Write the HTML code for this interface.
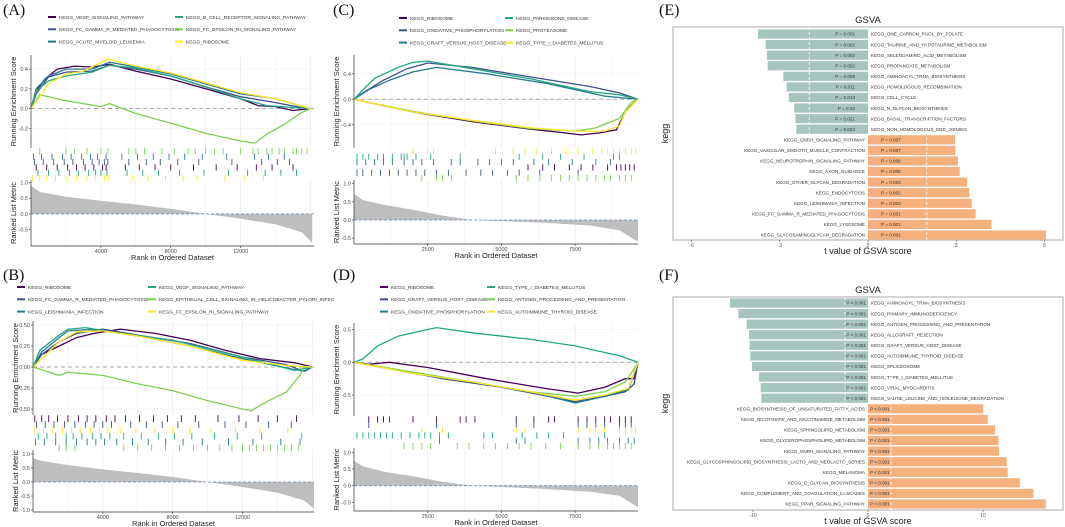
<!DOCTYPE html>
<html><head><meta charset="utf-8"><style>
html,body{margin:0;padding:0;background:#fff;}
svg{display:block;font-family:"Liberation Sans",sans-serif;}
</style></head><body>
<svg id="fig" width="1065" height="527" viewBox="0 0 1065 527" xmlns="http://www.w3.org/2000/svg"></svg>
<script>
// ---------- DATA ----------
const colPurple="#440154", colDark="#3b528b", colSteel="#2a788e", colTeal="#22a884", colLime="#7ad151", colYellow="#fde725";

// Panel A
const aNames=["KEGG_VEGF_SIGNALING_PATHWAY","KEGG_FC_GAMMA_R_MEDIATED_PHAGOCYTOSIS","KEGG_ACUTE_MYELOID_LEUKEMIA","KEGG_B_CELL_RECEPTOR_SIGNALING_PATHWAY","KEGG_FC_EPSILON_RI_SIGNALING_PATHWAY","KEGG_RIBOSOME"];
const aColors=[colPurple,colDark,colSteel,colTeal,colLime,colYellow];
const aES=[
 [[0,0],[300,0.18],[800,0.3],[1500,0.4],[2500,0.43],[3500,0.42],[4500,0.45],[6000,0.38],[8000,0.3],[10000,0.2],[12000,0.1],[13000,0.03],[14000,0.02],[15000,-0.02],[16000,0]],
 [[0,0],[300,0.15],[1000,0.32],[2000,0.37],[3500,0.38],[4500,0.44],[6000,0.4],[8000,0.33],[10000,0.22],[12000,0.12],[14000,0.06],[15500,0.01],[16000,0]],
 [[0,0],[300,0.2],[1000,0.33],[2000,0.4],[3500,0.4],[4500,0.47],[6000,0.42],[8000,0.35],[10000,0.25],[12000,0.15],[14000,0.1],[16000,0]],
 [[0,0],[300,0.18],[1000,0.28],[2000,0.33],[3500,0.37],[4500,0.44],[6000,0.41],[8000,0.33],[10000,0.22],[12000,0.1],[13500,0.03],[16000,0]],
 [[0,0],[500,0.14],[2000,0.08],[4000,0.02],[4500,0.05],[6000,-0.05],[8000,-0.15],[10000,-0.25],[12000,-0.33],[12800,-0.35],[13500,-0.26],[14500,-0.16],[15500,-0.04],[16000,0]],
 [[0,0],[500,0.12],[1000,0.25],[2000,0.35],[3000,0.38],[4400,0.5],[6000,0.43],[8000,0.36],[10000,0.26],[12000,0.16],[14000,0.1],[16000,0]]
];
const aHits=[
 [300,900,1500,2100,2600,3100,3600,4100,4300,5400,6200,7100,8000,9300,10600,11800,12900,13800,15000],
 [200,700,1300,1900,2400,3000,3500,3900,4200,4400,5600,6600,7400,8400,9600,11500,13200,14100,14800],
 [150,600,1200,1800,2300,2900,3400,3800,4300,5200,6100,7000,7900,8800,9800,11200,12800,13600,14500],
 [400,1000,1600,2200,2700,3300,3700,4000,4350,5500,6400,7300,8500,9900,11300,12400,13400,14300,15200],
 [500,2000,2500,3200,4000,4400,5600,6000,6500,7500,8200,9000,9400,10000,10500,11000,12000,12700,13000,13500,13800,14200,14500,15000,15200,15500,15800],
 [100,500,900,1400,2000,2600,3200,3700,4200,4450,5800,6700,7700,8700,9500,11100,12200,13300]
];
const aRows=[4,2,1,0,3,5];
const aMetric=[[0,0.9],[500,0.7],[2000,0.55],[4000,0.42],[6000,0.3],[8000,0.16],[10000,0],[12000,-0.15],[14000,-0.33],[15500,-0.58],[16100,-0.92]];

// Panel B
const bNames=["KEGG_RIBOSOME","KEGG_FC_GAMMA_R_MEDIATED_PHAGOCYTOSIS","KEGG_LEISHMANIA_INFECTION","KEGG_VEGF_SIGNALING_PATHWAY","KEGG_EPITHELIAL_CELL_SIGNALING_IN_HELICOBACTER_PYLORI_INFEC","KEGG_FC_EPSILON_RI_SIGNALING_PATHWAY"];
const bColors=[colPurple,colDark,colSteel,colTeal,colLime,colYellow];
const bES=[
 [[0,0],[500,0.15],[1500,0.25],[2500,0.35],[3500,0.4],[5000,0.45],[7000,0.4],[9000,0.32],[11000,0.2],[13000,0.1],[15000,0.05],[16000,0]],
 [[0,0],[500,0.15],[1500,0.3],[2500,0.4],[4000,0.45],[6000,0.38],[9000,0.28],[12000,0.12],[14500,0.03],[15500,-0.05],[16000,0]],
 [[0,0],[500,0.18],[1500,0.35],[2000,0.43],[3500,0.45],[6000,0.37],[9000,0.25],[12000,0.1],[15000,-0.03],[15600,-0.05],[16000,0]],
 [[0,0],[400,0.2],[1500,0.38],[2000,0.45],[3000,0.47],[5000,0.4],[8000,0.32],[12000,0.12],[15000,-0.04],[16000,0]],
 [[0,0],[1500,-0.1],[2000,-0.06],[3000,-0.08],[4000,-0.1],[6000,-0.2],[8000,-0.28],[10000,-0.4],[12000,-0.5],[12500,-0.52],[13500,-0.4],[14500,-0.3],[15300,-0.1],[15500,0],[16000,0]],
 [[0,0],[500,0.1],[1500,0.3],[2500,0.42],[4000,0.43],[6000,0.37],[9000,0.25],[12000,0.08],[14500,0.02],[16000,0]]
];
const bHits=[
 [100,500,900,1400,2000,2600,3100,3600,4200,4700,5300,6100,6900,7700,8500,9300,10600,11800,12900,14000,15100],
 [200,700,1200,1800,2400,3000,3500,4000,4500,5600,6500,7400,8300,9500,11000,12200,13500,14800],
 [150,650,1300,1900,2500,3100,3600,4100,4800,5700,6600,7600,8600,9700,11200,12600,14200,15300],
 [300,800,1300,1900,2300,2800,3400,3900,4400,5200,6200,7200,8100,9100,10400,11700,13100,15400],
 [1500,1900,2400,5200,6000,6800,7600,8400,9200,10000,10700,11400,12000,12400,12800,13200,13600,14000,14400,14800,15200],
 [100,600,1100,1700,2200,2700,3300,3800,4300,5000,5900,7000,8000,9000,10200,11600,13000,14600]
];
const bRows=[0,1,5,3,2,4];
const bMetric=[[0,0.85],[500,0.75],[2000,0.6],[4000,0.45],[6000,0.32],[8000,0.18],[10000,0],[12000,-0.18],[14000,-0.38],[15500,-0.65],[16100,-0.95]];

// Panel C
const cNames=["KEGG_RIBOSOME","KEGG_OXIDATIVE_PHOSPHORYLATION","KEGG_GRAFT_VERSUS_HOST_DISEASE","KEGG_PARKINSONS_DISEASE","KEGG_PROTEASOME","KEGG_TYPE_I_DIABETES_MELLITUS"];
const cColors=[colPurple,colDark,colSteel,colTeal,colLime,colYellow];
const cES=[
 [[0,0],[2000,-0.2],[4000,-0.35],[6000,-0.47],[7000,-0.52],[7700,-0.56],[8300,-0.53],[8900,-0.48],[9200,-0.2],[9400,-0.1],[9630,0]],
 [[0,0],[300,0.1],[1000,0.3],[1800,0.48],[2500,0.57],[4000,0.5],[6000,0.35],[8000,0.2],[9000,0.1],[9630,0]],
 [[0,0],[500,0.15],[1200,0.3],[2000,0.43],[2800,0.5],[4500,0.4],[6500,0.25],[8500,0.05],[9630,0]],
 [[0,0],[200,0.1],[700,0.33],[1500,0.5],[2000,0.58],[2500,0.6],[4000,0.48],[6000,0.32],[8000,0.12],[9000,0.07],[9630,0]],
 [[0,0],[2000,-0.19],[4000,-0.34],[6000,-0.46],[7500,-0.5],[8200,-0.45],[9000,-0.3],[9400,-0.05],[9630,0]],
 [[0,0],[2000,-0.2],[4000,-0.33],[6000,-0.45],[7500,-0.5],[8500,-0.5],[9000,-0.42],[9200,-0.2],[9630,0]]
];
const cHits=[
 [5900,6400,6800,7300,7700,8100,8600,8900,9050,9200,9350,9500],
 [100,300,600,900,1200,1500,1800,2100,2400,2800,3200,3800,4300,4700,5200,5600,6300,7600],
 [100,400,700,1000,1300,1700,2000,2300,2700,3300,3600,4200,4600,5000,5400,6100,6600,7400,8200,8700],
 [100,300,500,800,1000,1300,1600,1700,1800,2100,2600,3600,5600,6400,7000,7800,8800,9000],
 [2300,2800,3000,3300,5500,5900,6300,6700,7000,7300,7600,7900,8200,8500,8700,9000,9200,9400],
 [2000,2500,2700,4800,5400,5800,6200,6700,7200,7600,8100,8400,8600,8800,9000,9200,9400,9550]
];
const cRows=[5,3,2,0,1,4];
const cMetric=[[0,0.72],[300,0.55],[1000,0.42],[2000,0.28],[3000,0.12],[4000,0],[5000,-0.03],[6500,-0.08],[8000,-0.15],[9000,-0.28],[9630,-0.6]];

// Panel D
const dNames=["KEGG_RIBOSOME","KEGG_GRAFT_VERSUS_HOST_DISEASE","KEGG_OXIDATIVE_PHOSPHORYLATION","KEGG_TYPE_I_DIABETES_MELLITUS","KEGG_ANTIGEN_PROCESSING_AND_PRESENTATION","KEGG_AUTOIMMUNE_THYROID_DISEASE"];
const dColors=[colPurple,colDark,colSteel,colTeal,colLime,colYellow];
const dES=[
 [[0,0],[500,-0.03],[1200,0],[2500,-0.08],[4500,-0.25],[6500,-0.4],[7600,-0.47],[8500,-0.38],[9200,-0.25],[9500,-0.25],[9630,0]],
 [[0,0],[1000,-0.08],[3000,-0.25],[5000,-0.38],[7500,-0.6],[8500,-0.52],[9200,-0.45],[9500,-0.33],[9630,0]],
 [[0,0],[2000,-0.17],[4000,-0.3],[6000,-0.45],[7500,-0.62],[8500,-0.52],[9300,-0.42],[9630,0]],
 [[0,0],[300,0.05],[800,0.25],[1500,0.4],[2500,0.5],[2800,0.53],[4000,0.45],[6000,0.35],[7500,0.25],[9000,0.1],[9630,0]],
 [[0,0],[2000,-0.15],[4000,-0.3],[6000,-0.45],[7500,-0.52],[8500,-0.45],[9200,-0.3],[9500,-0.1],[9630,0]],
 [[0,0],[2000,-0.17],[4000,-0.3],[6000,-0.45],[7500,-0.58],[8500,-0.5],[9300,-0.4],[9630,0]]
];
const dHits=[
 [500,800,1000,1200,2000,2800,3600,3800,4100,5500,6100,6600,6800,7600,7900,8200,8500,8700,9000,9200,9400],
 [500,2800,5500,6100,7600,7900,8200,8500,9000,9200,9400],
 [2900,5500,5800,7600,8000,8300,8600,9000,9300,9500],
 [100,300,500,700,900,1100,1300,1600,1900,2200,2400,2600,2900,3200,4400,4700,5700,6200,6600,7100,8500],
 [1700,2000,2300,2600,3500,3900,4400,4800,5200,5600,6000,6500,7000,7600,8000,8300,8600,8800,9000,9200,9400],
 [2300,3000,5500,5800,7600,8000,8200,8500,9000,9200,9400,9550]
];
const dRows=[0,1,5,3,2,4];
const dMetric=[[0,0.75],[300,0.58],[1000,0.42],[2000,0.28],[3000,0.12],[4000,0],[5000,-0.04],[6500,-0.1],[8000,-0.18],[9000,-0.3],[9630,-0.65]];

// GSVA E
const eLabels=["KEGG_ONE_CARBON_POOL_BY_FOLATE","KEGG_TAURINE_AND_HYPOTAURINE_METABOLISM","KEGG_SELENOAMINO_ACID_METABOLISM","KEGG_PROPANOATE_METABOLISM","KEGG_AMINOACYL_TRNA_BIOSYNTHESIS","KEGG_HOMOLOGOUS_RECOMBINATION","KEGG_CELL_CYCLE","KEGG_N_GLYCAN_BIOSYNTHESIS","KEGG_BASAL_TRANSCRIPTION_FACTORS","KEGG_NON_HOMOLOGOUS_END_JOINING","KEGG_GNRH_SIGNALING_PATHWAY","KEGG_VASCULAR_SMOOTH_MUSCLE_CONTRACTION","KEGG_NEUROTROPHIN_SIGNALING_PATHWAY","KEGG_AXON_GUIDANCE","KEGG_OTHER_GLYCAN_DEGRADATION","KEGG_ENDOCYTOSIS","KEGG_LEISHMANIA_INFECTION","KEGG_FC_GAMMA_R_MEDIATED_PHAGOCYTOSIS","KEGG_LYSOSOME","KEGG_GLYCOSAMINOGLYCAN_DEGRADATION"];
const eValues=[-3.74,-3.48,-3.44,-3.41,-2.88,-2.77,-2.69,-2.51,-2.47,-2.44,2.96,2.97,3.06,3.12,3.37,3.45,3.53,3.66,4.2,6.05];
const ePvals=["P = 0.001","P = 0.002","P = 0.002","P = 0.002","P = 0.008","P = 0.011","P = 0.013","P = 0.02","P = 0.021","P = 0.023","P = 0.007","P = 0.007","P = 0.006","P = 0.005","P = 0.003","P = 0.002","P = 0.002","P = 0.001","P = 0.001","P < 0.001"];
const eTicks=[-6,-3,0,3,6];
// GSVA F
const fLabels=["KEGG_AMINOACYL_TRNA_BIOSYNTHESIS","KEGG_PRIMARY_IMMUNODEFICIENCY","KEGG_ANTIGEN_PROCESSING_AND_PRESENTATION","KEGG_ALLOGRAFT_REJECTION","KEGG_GRAFT_VERSUS_HOST_DISEASE","KEGG_AUTOIMMUNE_THYROID_DISEASE","KEGG_SPLICEOSOME","KEGG_TYPE_I_DIABETES_MELLITUS","KEGG_VIRAL_MYOCARDITIS","KEGG_VALINE_LEUCINE_AND_ISOLEUCINE_DEGRADATION","KEGG_BIOSYNTHESIS_OF_UNSATURATED_FATTY_ACIDS","KEGG_NICOTINATE_AND_NICOTINAMIDE_METABOLISM","KEGG_SPHINGOLIPID_METABOLISM","KEGG_GLYCEROPHOSPHOLIPID_METABOLISM","KEGG_GNRH_SIGNALING_PATHWAY","KEGG_GLYCOSPHINGOLIPID_BIOSYNTHESIS_LACTO_AND_NEOLACTO_SERIES","KEGG_MELANOMA","KEGG_O_GLYCAN_BIOSYNTHESIS","KEGG_COMPLEMENT_AND_COAGULATION_CASCADES","KEGG_PPAR_SIGNALING_PATHWAY"];
const fValues=[-12.0,-11.27,-10.55,-10.35,-10.3,-10.23,-10.09,-9.48,-9.33,-9.27,10.03,10.41,11.05,11.34,11.4,12.06,12.15,13.2,14.38,15.46];
const fPvals=["P < 0.001","P < 0.001","P < 0.001","P < 0.001","P < 0.001","P < 0.001","P < 0.001","P < 0.001","P < 0.001","P < 0.001","P < 0.001","P < 0.001","P < 0.001","P < 0.001","P < 0.001","P < 0.001","P < 0.001","P < 0.001","P < 0.001","P < 0.001"];
const fTicks=[-10,0,10];

// ---------- DRAWING ----------
const svg=document.getElementById('fig');
const NS="http://www.w3.org/2000/svg";
function mk(tag,attrs,parent){const e=document.createElementNS(NS,tag);for(const k in attrs)e.setAttribute(k,attrs[k]);(parent||svg).appendChild(e);return e;}
function txt(s,attrs,parent){const e=mk('text',attrs,parent);e.textContent=s;return e;}

function gsea(cfg){
  const g=mk('g',{});
  
  
  const X=v=>cfg.x0+(v/cfg.xmax)*(cfg.x1-cfg.x0);
  const YE=v=>cfg.esTop+(cfg.esMax-v)/(cfg.esMax-cfg.esMin)*(cfg.esBot-cfg.esTop);
  const YM=v=>cfg.metTop+(cfg.metMax-v)/(cfg.metMax-cfg.metMin)*(cfg.metBot-cfg.metTop);
  const pl=txt(cfg.letter,{x:cfg.lx,y:cfg.ly,'font-family':'Liberation Serif, serif','font-size':16,fill:'#111'},g);
  
  
  cfg.names.forEach((n,i)=>{
    const col=i<3?0:1,row=i%3;
    const lx=cfg.legX[col],ly=cfg.legY+row*12.3;
    const lg=mk('g',{},g);
    
    
    mk('line',{x1:lx,x2:lx+8,y1:ly,y2:ly,stroke:cfg.colors[i],'stroke-width':2},lg);
    txt(n,{x:lx+11,y:ly+1.8,'font-size':4.9,fill:'#333'},lg);
  });
  for(let t=cfg.xstep/2;t<cfg.xmax;t+=cfg.xstep/2){
    mk('line',{x1:X(t),x2:X(t),y1:cfg.esTop,y2:cfg.esBot,stroke:'#ebebeb','stroke-width':t%cfg.xstep===0?0.8:0.5},g);
    mk('line',{x1:X(t),x2:X(t),y1:cfg.metTop,y2:cfg.metBot,stroke:'#ebebeb','stroke-width':t%cfg.xstep===0?0.8:0.5},g);
  }
  cfg.esTicks.forEach(t=>mk('line',{x1:cfg.x0,x2:cfg.x1,y1:YE(t),y2:YE(t),stroke:'#f0f0f0','stroke-width':0.6},g));
  mk('line',{x1:cfg.x0,x2:cfg.x1,y1:YE(0),y2:YE(0),stroke:'#aaa','stroke-width':1,'stroke-dasharray':'4,3'},g);
  cfg.es.forEach((pts,i)=>{
    const p=mk('polyline',{points:pts.map(q=>X(q[0]).toFixed(1)+','+YE(q[1]).toFixed(1)).join(' '),fill:'none',stroke:cfg.colors[i],'stroke-width':1.3},g);
    
    
  });
  const rh=(cfg.hitBot-cfg.hitTop)/6;
  cfg.rows.forEach((si,r)=>{
    cfg.hits[si].forEach(h=>{
      const l=mk('line',{x1:X(h),x2:X(h),y1:cfg.hitTop+r*rh+0.3,y2:cfg.hitTop+(r+1)*rh+1.2,stroke:cfg.colors[si],'stroke-width':0.9},g);
      
      
    });
  });
  let d='M'+X(cfg.metric[0][0])+','+YM(0);
  cfg.metric.forEach(q=>{d+=' L'+X(q[0]).toFixed(1)+','+YM(q[1]).toFixed(1);});
  d+=' L'+X(cfg.metric[cfg.metric.length-1][0])+','+YM(0)+' Z';
  const ar=mk('path',{d:d,fill:'#bebebe',stroke:'none'},g);
  
  
  mk('line',{x1:cfg.x0,x2:cfg.x1,y1:YM(0),y2:YM(0),stroke:'#6a8fb5','stroke-width':0.8,'stroke-dasharray':'3,2'},g);
  mk('line',{x1:cfg.x0,x2:cfg.x0,y1:cfg.esTop,y2:cfg.esBot,stroke:'#333','stroke-width':0.7},g);
  mk('line',{x1:cfg.x0,x2:cfg.x0,y1:cfg.metTop,y2:cfg.metBot,stroke:'#333','stroke-width':0.7},g);
  mk('line',{x1:cfg.x0,x2:cfg.x1,y1:cfg.metBot,y2:cfg.metBot,stroke:'#333','stroke-width':0.7},g);
  cfg.esTicks.forEach((t,i)=>{
    mk('line',{x1:cfg.x0-2,x2:cfg.x0,y1:YE(t),y2:YE(t),stroke:'#333','stroke-width':0.6},g);
    txt(cfg.esLabels[i],{x:cfg.x0-3,y:YE(t)+2,'font-size':5.5,'text-anchor':'end',fill:'#4d4d4d'},g);
  });
  cfg.metTicks.forEach((t,i)=>{
    mk('line',{x1:cfg.x0-2,x2:cfg.x0,y1:YM(t),y2:YM(t),stroke:'#333','stroke-width':0.6},g);
    txt(cfg.metLabels[i],{x:cfg.x0-3,y:YM(t)+2,'font-size':5.5,'text-anchor':'end',fill:'#4d4d4d'},g);
  });
  cfg.xTicks.forEach(t=>{
    mk('line',{x1:X(t),x2:X(t),y1:cfg.metBot,y2:cfg.metBot+2,stroke:'#333','stroke-width':0.6},g);
    txt(String(t),{x:X(t),y:cfg.metBot+7,'font-size':5.5,'text-anchor':'middle',fill:'#4d4d4d'},g);
  });
  const xt=txt('Rank in Ordered Dataset',{x:(cfg.x0+cfg.x1)/2,y:cfg.metBot+14,'font-size':7.5,'text-anchor':'middle',fill:'#222'},g);
  
  
  const yc1=(cfg.esTop+cfg.esBot)/2,yc2=(cfg.metTop+cfg.metBot)/2,tx=cfg.x0-15;
  const y1=txt('Running Enrichment Score',{x:tx,y:yc1,'font-size':7.5,'text-anchor':'middle',fill:'#222',transform:`rotate(-90 ${tx} ${yc1})`},g);
  
  
  const y2=txt('Ranked List Metric',{x:tx,y:yc2,'font-size':7.5,'text-anchor':'middle',fill:'#222',transform:`rotate(-90 ${tx} ${yc2})`},g);
  
  
}

gsea({id:'a',letter:'(A)',lx:3,ly:15,names:aNames,colors:aColors,es:aES,hits:aHits,rows:aRows,metric:aMetric,legX:[48,175],legY:17,
  x0:31,x1:314,xmax:16200,xstep:4000,xTicks:[4000,8000,12000],
  esTop:55,esBot:148,esMax:0.543,esMin:-0.40,esTicks:[-0.2,0,0.2,0.4],esLabels:['-0.2','0.0','0.2','0.4'],
  hitTop:148,hitBot:180,metTop:180,metBot:246,metMax:1.08,metMin:-1.02,metTicks:[-0.5,0,0.5,1],metLabels:['-0.5','0.0','0.5','1.0']});
gsea({id:'b',letter:'(B)',lx:3,ly:280,names:bNames,colors:bColors,es:bES,hits:bHits,rows:bRows,metric:bMetric,legX:[17,148],legY:287,
  x0:33,x1:314,xmax:16100,xstep:4000,xTicks:[4000,8000,12000],
  esTop:321,esBot:415,esMax:0.548,esMin:-0.571,esTicks:[-0.5,-0.25,0,0.25,0.5],esLabels:['-0.50','-0.25','0.00','0.25','0.50'],
  hitTop:415,hitBot:450,metTop:450,metBot:512,metMax:1.14,metMin:-1.07,metTicks:[-1,-0.5,0,0.5,1],metLabels:['-1.0','-0.5','0.0','0.5','1.0']});
gsea({id:'c',letter:'(C)',lx:333,ly:15,names:cNames,colors:cColors,es:cES,hits:cHits,rows:cRows,metric:cMetric,legX:[399,505],legY:18,
  x0:354,x1:638,xmax:9630,xstep:2500,xTicks:[2500,5000,7500],
  esTop:55,esBot:148,esMax:0.695,esMin:-0.765,esTicks:[-0.4,0,0.4],esLabels:['-0.4','0.0','0.4'],
  hitTop:148,hitBot:180,metTop:180,metBot:244,metMax:1.1,metMin:-0.66,metTicks:[-0.5,0,0.5,1],metLabels:['-0.5','0.0','0.5','1.0']});
gsea({id:'d',letter:'(D)',lx:333,ly:280,names:dNames,colors:dColors,es:dES,hits:dHits,rows:dRows,metric:dMetric,legX:[380,487],legY:287,
  x0:354,x1:638,xmax:9630,xstep:2500,xTicks:[2500,5000,7500],
  esTop:323,esBot:416,esMax:0.6,esMin:-0.82,esTicks:[-0.5,0,0.5],esLabels:['-0.5','0.0','0.5'],
  hitTop:416,hitBot:448,metTop:448,metBot:511,metMax:1.13,metMin:-0.76,metTicks:[-0.5,0,0.5,1],metLabels:['-0.5','0.0','0.5','1.0']});

function gsva(cfg){
  const g=mk('g',{});
  
  
  const X=v=>cfg.zero+v*cfg.k;
  const pl=txt(cfg.letter,{x:cfg.lx,y:cfg.ly,'font-family':'Liberation Serif, serif','font-size':16,fill:'#111'},g);
  
  
  const t=txt('GSVA',{x:868,y:cfg.top-4,'font-size':9.5,'text-anchor':'middle',fill:'#222'},g);
  
  
  mk('rect',{x:673,y:cfg.top,width:390,height:cfg.bot-cfg.top,fill:'#fff',stroke:'#bdbdbd','stroke-width':1.3},g);
  const step=(cfg.lastC-cfg.firstC)/(cfg.labels.length-1);
  cfg.values.forEach((v,i)=>{
    const cy=cfg.firstC+i*step,h=9.2;
    const neg=v<0;
    const r=mk('rect',{x:neg?X(v):X(0),y:cy-h/2,width:Math.abs(X(v)-X(0)),height:h,fill:neg?'#a7c5bf':'#f4b07d'},g);
    
    
    txt(cfg.labels[i],{x:neg?X(0)+3:X(0)-3,y:cy+1.7,'font-size':4.6,'text-anchor':neg?'start':'end',fill:'#333'},g);
    txt(cfg.pvals[i],{x:neg?X(0)-13+cfg.pOff:X(0)+13-cfg.pOff,y:cy+1.7,'font-size':4.6,'text-anchor':neg?'end':'start',fill:'#333'},g);
  });
  [-2,2].forEach(v=>mk('line',{x1:X(v),x2:X(v),y1:cfg.top,y2:cfg.bot,stroke:'#fff','stroke-width':0.8,'stroke-dasharray':'3,2'},g));
  cfg.ticks.forEach(v=>{
    mk('line',{x1:X(v),x2:X(v),y1:cfg.bot,y2:cfg.bot+2,stroke:'#555','stroke-width':0.6},g);
    txt(String(v),{x:X(v),y:cfg.bot+7,'font-size':5,'text-anchor':'middle',fill:'#555'},g);
  });
  const xt=txt('t value of GSVA score',{x:868,y:cfg.bot+14,'font-size':9,'text-anchor':'middle',fill:'#222'},g);
  
  
  const yc=(cfg.top+cfg.bot)/2;
  const yt=txt('kegg',{x:668,y:yc,'font-size':9,'text-anchor':'middle',fill:'#222',transform:`rotate(-90 668 ${yc})`},g);
  
  
}
gsva({id:'e',letter:'(E)',lx:659,ly:15,labels:eLabels,values:eValues,pvals:ePvals,ticks:eTicks,zero:868,k:29.4,top:27,bot:240,firstC:34,lastC:235,pOff:0});
gsva({id:'f',letter:'(F)',lx:659,ly:280,labels:fLabels,values:fValues,pvals:fPvals,ticks:fTicks,zero:868,k:11.5,top:297,bot:510,firstC:303,lastC:504,pOff:11});
</script>
</body></html>
